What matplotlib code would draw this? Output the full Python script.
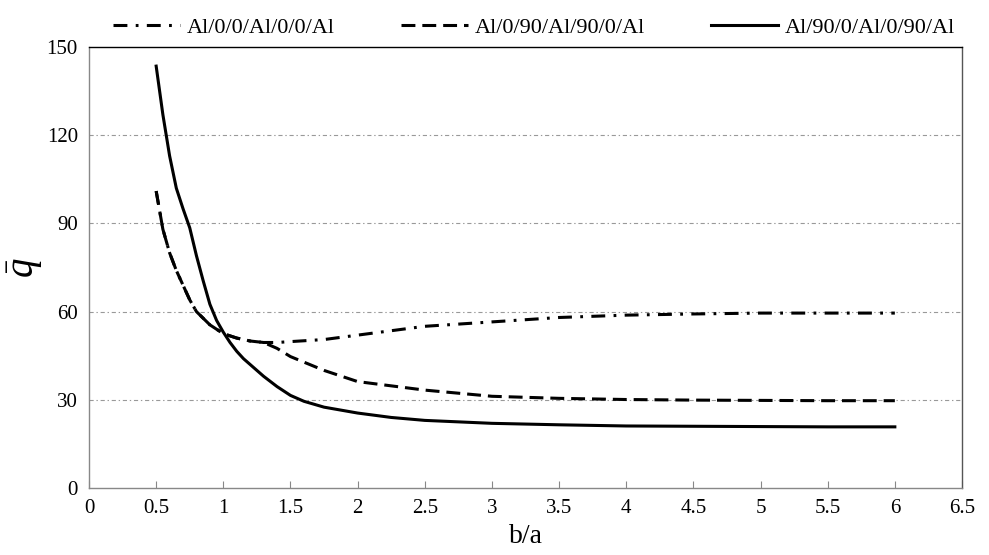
import matplotlib
matplotlib.use("Agg")
import matplotlib.pyplot as plt

# ==========================================
# Data
# ==========================================
ba_solid = [0.5, 0.55, 0.6, 0.65, 0.7, 0.75, 0.8, 0.85, 0.9, 0.95, 1.0, 1.05, 1.1, 1.15,
            1.2, 1.3, 1.4, 1.5, 1.6, 1.75, 2.0, 2.25, 2.5, 3.0, 3.5, 4.0, 4.5, 5.0, 5.5, 6.0]
q_90_0 = [143.5, 127, 113, 102, 95, 88.5, 79, 70.5, 62.5, 57, 53, 49.5, 46.5, 44,
          42, 38, 34.5, 31.5, 29.5, 27.5, 25.5, 24, 23, 22, 21.5, 21.1, 21, 20.9, 20.8, 20.8]

ba = [0.5, 0.55, 0.6, 0.65, 0.7, 0.75, 0.8, 0.9, 1.0, 1.1, 1.2, 1.3, 1.4, 1.5,
      1.75, 2.0, 2.5, 3.0, 3.5, 4.0, 4.5, 5.0, 5.5, 6.0]
q_0_0 = [101, 88, 80, 74, 69, 64, 60, 55.5, 52.5, 51, 50, 49.5, 49.5, 49.8,
         50.5, 52, 55, 56.5, 58, 58.8, 59.2, 59.5, 59.5, 59.5]
q_0_90 = [101, 88, 80, 74, 69, 64, 60, 55.5, 52.5, 51, 50, 49.5, 47.5, 44.7,
          40, 36.2, 33.3, 31.2, 30.5, 30.1, 29.9, 29.8, 29.7, 29.7]

labels = ["Al/0/0/Al/0/0/Al", "Al/0/90/Al/90/0/Al", "Al/90/0/Al/0/90/Al"]
x_ticks = [0, 0.5, 1, 1.5, 2, 2.5, 3, 3.5, 4, 4.5, 5, 5.5, 6, 6.5]
y_ticks = [0, 30, 60, 90, 120, 150]

# ==========================================
# Plot
# ==========================================
plt.rcParams['font.family'] = ['Liberation Serif', 'DejaVu Serif']
plt.rcParams['lines.scale_dashes'] = False
plt.rcParams['mathtext.fontset'] = 'custom'
plt.rcParams['mathtext.it'] = 'Liberation Serif:italic'
plt.rcParams['mathtext.rm'] = 'Liberation Serif'

fig = plt.figure(figsize=(9.89, 5.55), dpi=100)
ax = fig.add_axes([0.09, 0.1207, 0.8827, 0.7946])

lw = 2.2
ax.plot(ba, q_0_0, color='black', lw=lw, linestyle=(0, (10, 6, 2, 6)), label=labels[0])
ax.plot(ba, q_0_90, color='black', lw=lw, linestyle=(0, (10, 5)), label=labels[1])
ax.plot(ba_solid, q_90_0, color='black', lw=lw, linestyle='-', label=labels[2])

ax.set_xlim(0, 6.5)
ax.set_ylim(0, 150)
ax.set_xticks(x_ticks)
ax.set_xticklabels([f"{t:g}" for t in x_ticks])
ax.set_yticks(y_ticks)

for y in y_ticks[1:-1]:
    ax.axhline(y, color='#999999', lw=0.8, linestyle=(0, (3, 2, 1, 2)), zorder=0)

ax.tick_params(axis='x', direction='in', length=5, width=0.8, color='#888888',
               labelsize=15, pad=8)
ax.tick_params(axis='y', length=0, labelsize=15, pad=8)

ax.spines['left'].set_color('#888888')
ax.spines['bottom'].set_color('#888888')
ax.spines['top'].set_color('black')
ax.spines['right'].set_color('#555555')
for s in ax.spines.values():
    s.set_linewidth(1.0)

ax.set_xlabel("b/a", fontsize=20, labelpad=4)
ax.set_ylabel(r"$\bar{q}$", fontsize=28)
ax.yaxis.set_label_coords(-0.05, 0.5)

fig.legend(loc='upper center', bbox_to_anchor=(0.54, 1.005), ncol=3, frameon=False,
           fontsize=16, handlelength=3.0, handletextpad=0.3, columnspacing=3.0)

fig.savefig("out.png", dpi=100)
